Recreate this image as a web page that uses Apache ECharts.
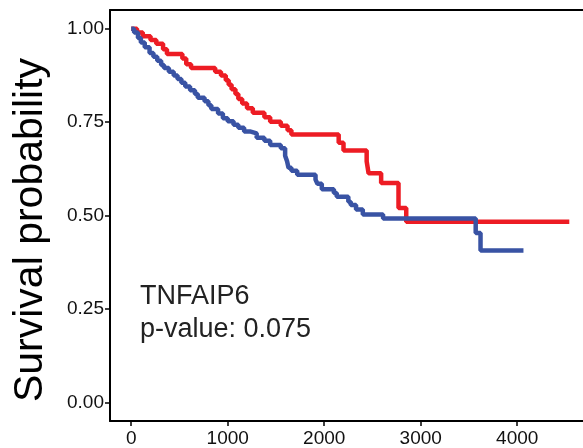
<!DOCTYPE html>
<html>
<head>
<meta charset="utf-8">
<script src="https://cdn.jsdelivr.net/npm/echarts@6/dist/echarts.min.js"></script>
<style>html,body{margin:0;padding:0;background:#fff;}#c{width:583px;height:448px;}</style>
</head>
<body>
<div id="c"></div>
<script>
// Kaplan-Meier step data: [time, survival after event]
const redCurve = [[0,1],[60,0.99],[120,0.98],[200,0.97],[260,0.96],[330,0.945],[370,0.932],[530,0.92],[570,0.905],[620,0.895],[870,0.885],[930,0.875],[980,0.862],[1010,0.85],[1040,0.838],[1080,0.825],[1110,0.812],[1150,0.8],[1200,0.787],[1260,0.775],[1380,0.763],[1440,0.751],[1550,0.74],[1620,0.728],[1660,0.717],[2150,0.695],[2200,0.674],[2440,0.645],[2460,0.613],[2590,0.587],[2770,0.52],[2850,0.483],[4540,0.483]];
const blueCurve = [[0,1],[30,0.99],[70,0.975],[100,0.963],[140,0.95],[190,0.935],[230,0.925],[270,0.914],[310,0.903],[340,0.895],[390,0.885],[440,0.875],[480,0.865],[520,0.855],[560,0.845],[610,0.835],[660,0.825],[690,0.815],[760,0.806],[800,0.795],[830,0.785],[900,0.773],[950,0.76],[1000,0.752],[1060,0.743],[1110,0.735],[1170,0.725],[1230,0.72],[1300,0.708],[1380,0.7],[1440,0.689],[1550,0.68],[1595,0.66],[1615,0.645],[1630,0.628],[1660,0.62],[1720,0.609],[1910,0.596],[1930,0.585],[1975,0.57],[2100,0.56],[2130,0.55],[2250,0.537],[2275,0.528],[2330,0.516],[2400,0.503],[2610,0.492],[3570,0.453],[3620,0.406],[4065,0.406]];
const xTicks = [0,1000,2000,3000,4000];
const yTicks = [0,0.25,0.5,0.75,1];
const geneName = 'TNFAIP6';
const pValueText = 'p-value: 0.075';
const yTitle = 'Survival probability';

const chart = echarts.init(document.getElementById('c'), null, {renderer:'canvas'});
const font = 'Liberation Sans, Arial, Helvetica, sans-serif';
chart.setOption({
  animation: false,
  backgroundColor: '#fff',
  grid: {left:110, right:0, top:10, bottom:27, show:false},
  xAxis: [{
    type:'value', min:-220, max:4682, position:'bottom',
    splitLine:{show:false},
    axisLine:{show:true, onZero:false, lineStyle:{color:'#000', width:2}},
    axisTick:{show:true, customValues:xTicks, length:5, lineStyle:{color:'#000', width:1.5}},
    axisLabel:{customValues:xTicks, color:'#111', fontSize:19, fontFamily:font, margin:8, formatter:v=>String(v)}
  },{
    type:'value', min:-220, max:4682, position:'top',
    splitLine:{show:false},
    axisLine:{show:true, onZero:false, lineStyle:{color:'#000', width:2}},
    axisTick:{show:false}, axisLabel:{show:false}
  }],
  yAxis: {
    type:'value', min:-0.05, max:1.05,
    splitLine:{show:false},
    axisLine:{show:true, onZero:false, lineStyle:{color:'#000', width:2}},
    axisTick:{show:true, customValues:yTicks, length:5, lineStyle:{color:'#000', width:1.5}},
    axisLabel:{customValues:yTicks, color:'#111', fontSize:19, fontFamily:font, margin:6, formatter:v=>v.toFixed(2)}
  },
  series: [
    {type:'line', step:'end', data:redCurve, showSymbol:false, lineStyle:{color:'#ED1C24', width:4.5}, z:2},
    {type:'line', step:'end', data:blueCurve, showSymbol:false, lineStyle:{color:'#3953A4', width:4.5}, z:3}
  ],
  graphic: [
    {type:'text', x:31, y:230, rotation:Math.PI/2, style:{text:yTitle, fontSize:41, fontFamily:font, fill:'#000', align:'center', verticalAlign:'middle'}},
    {type:'text', x:140, y:297, style:{text:geneName, fontSize:27, fontFamily:font, fill:'#222', align:'left', verticalAlign:'middle'}},
    {type:'text', x:140, y:330, style:{text:pValueText, fontSize:27, fontFamily:font, fill:'#222', align:'left', verticalAlign:'middle'}}
  ]
});
</script>
</body>
</html>
